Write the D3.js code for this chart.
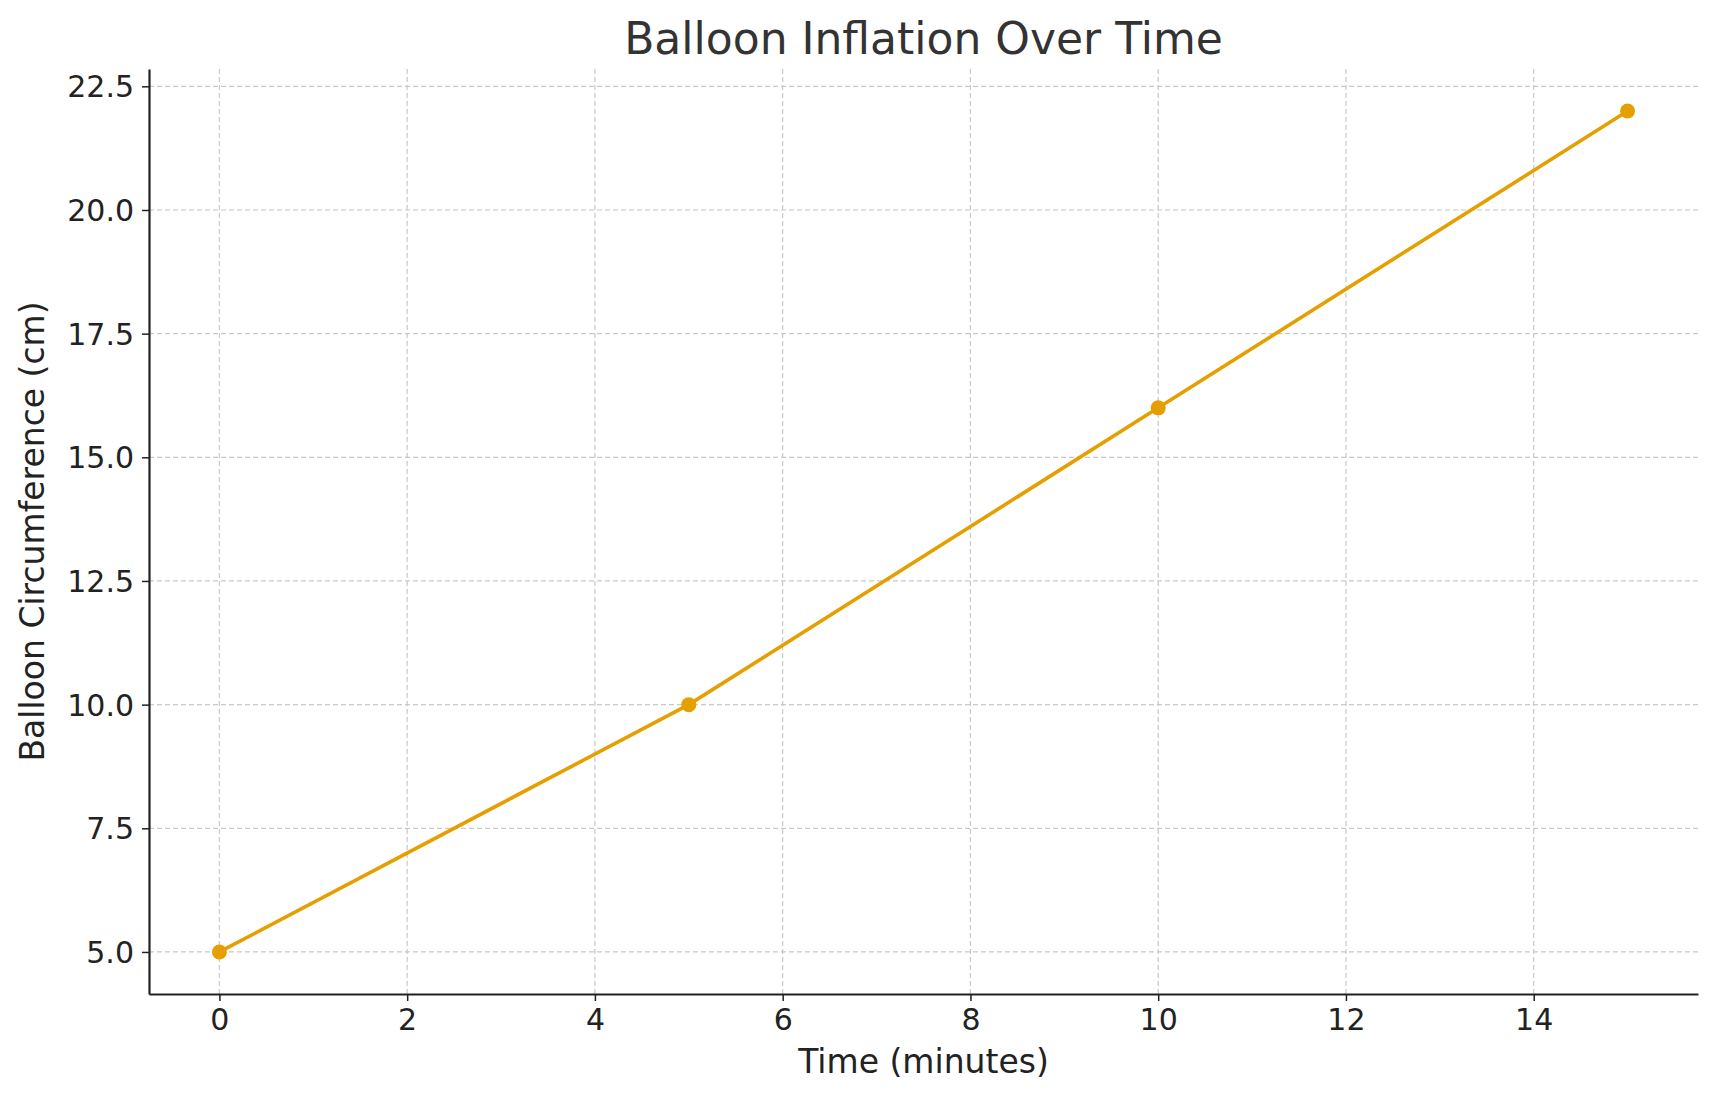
<!DOCTYPE html><html><head><meta charset="utf-8"><script src="https://cdn.jsdelivr.net/npm/d3@7"></script>
<style>body{margin:0;background:#fff}text{font-family:"DejaVu Sans",sans-serif}</style></head><body>
<svg id="c" width="1718" height="1101"></svg>
<script>
const times=[0,5,10,15];
const circumference=[5,10,16,22];
const xTicks=[0,2,4,6,8,10,12,14];
const yTicks=[5,7.5,10,12.5,15,17.5,20,22.5];
const svg=d3.select("#c");
const L=149,R=1698,T=69,B=994;
const x=d3.scaleLinear().domain([-0.75,15.75]).range([L,R]);
const y=d3.scaleLinear().domain([4.15,22.85]).range([B,T]);
const g=svg.append("g");
g.selectAll(".vx").data(xTicks).join("line").attr("x1",d=>x(d)).attr("x2",d=>x(d)).attr("y1",T).attr("y2",B).attr("stroke","#c8c8c8").attr("stroke-width",1.2).attr("stroke-dasharray","5,3");
g.selectAll(".hy").data(yTicks).join("line").attr("y1",d=>y(d)).attr("y2",d=>y(d)).attr("x1",L).attr("x2",R).attr("stroke","#c8c8c8").attr("stroke-width",1.2).attr("stroke-dasharray","5,3");
const xa=svg.append("g").attr("transform",`translate(0,${B})`).call(d3.axisBottom(x).tickValues(xTicks).tickFormat(d3.format("d")).tickSize(7).tickSizeOuter(0).tickPadding(8));
const ya=svg.append("g").attr("transform",`translate(${L},0)`).call(d3.axisLeft(y).tickValues(yTicks).tickFormat(d3.format(".1f")).tickSize(7).tickSizeOuter(0).tickPadding(8));
[xa,ya].forEach(a=>{a.attr("font-size",null);a.selectAll("text").attr("font-size",30).attr("fill","#222").attr("font-family","DejaVu Sans");a.selectAll("line").attr("stroke","#222").attr("stroke-width",1.5);a.select(".domain").attr("stroke","#222").attr("stroke-width",2.2);});
ya.selectAll("text").attr("dy","0.35em");
const pts=times.map((t,i)=>[t,circumference[i]]);
svg.append("path").datum(pts).attr("d",d3.line().x(d=>x(d[0])).y(d=>y(d[1]))).attr("fill","none").attr("stroke","#E69F00").attr("stroke-width",3.6);
svg.selectAll(".p").data(pts).join("circle").attr("cx",d=>x(d[0])).attr("cy",d=>y(d[1])).attr("r",7.5).attr("fill","#E69F00");
svg.append("text").attr("x",(L+R)/2).attr("y",54).attr("text-anchor","middle").attr("font-size",44).attr("fill","#333").text("Balloon Inflation Over Time");
svg.append("text").attr("x",(L+R)/2).attr("y",1073).attr("text-anchor","middle").attr("font-size",33).attr("fill","#222").text("Time (minutes)");
svg.append("text").attr("transform",`translate(44,${(T+B)/2}) rotate(-90)`).attr("text-anchor","middle").attr("font-size",33).attr("fill","#222").text("Balloon Circumference (cm)");
</script></body></html>
